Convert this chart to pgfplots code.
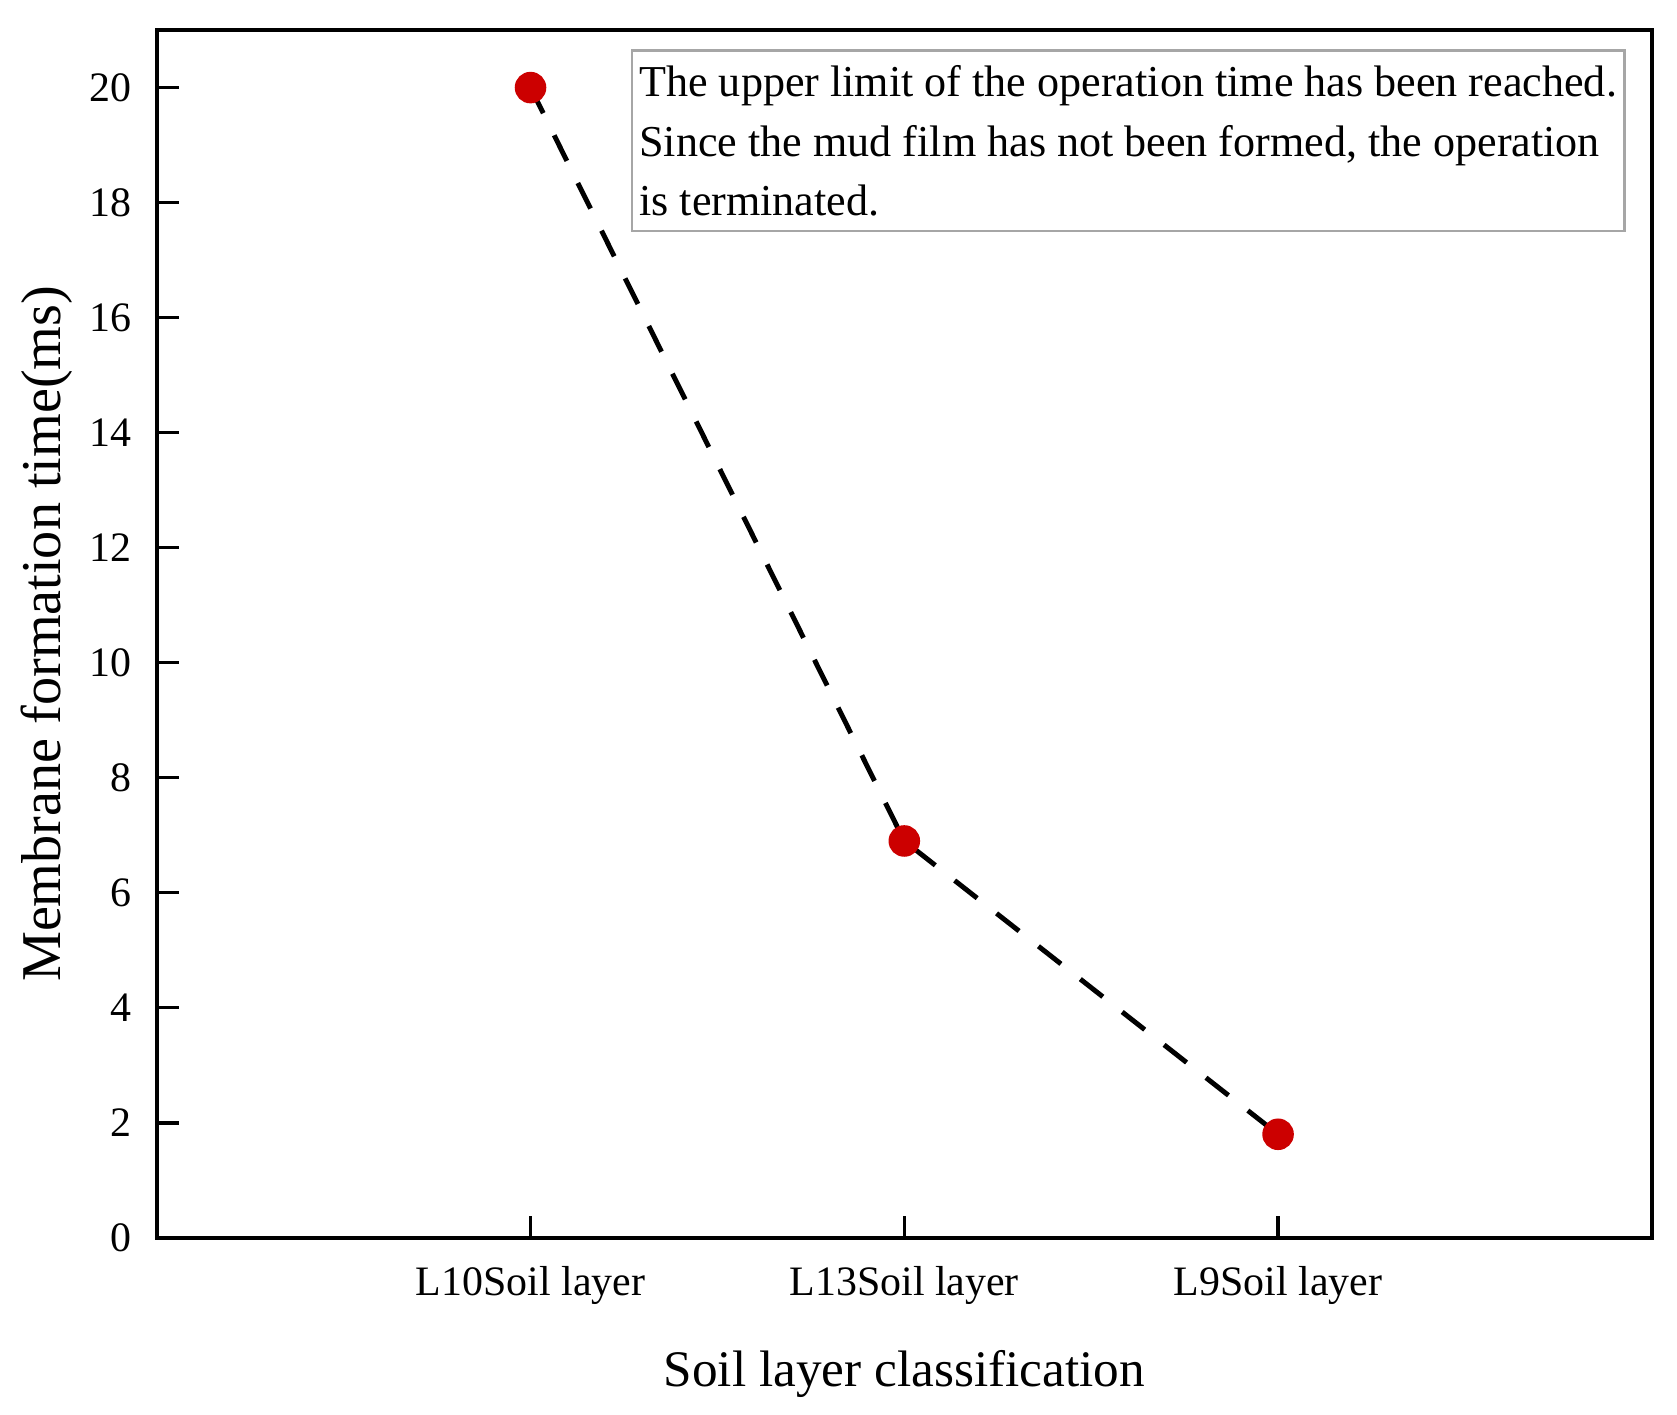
\documentclass[border=0pt]{standalone}
\usepackage{fontspec}
\setmainfont{Liberation Serif}
\usepackage{pgfplots}
\pgfplotsset{compat=1.18}
\definecolor{ptred}{RGB}{204,0,0}
\begin{document}
\begin{tikzpicture}
\useasboundingbox (-31.8pt,-35.9pt) rectangle (308.4pt,251.1pt);
\begin{axis}[
  scale only axis, width=303.3pt, height=245pt,
  xmin=0, xmax=4, ymin=0, ymax=21,
  xtick={1,2,3},
  xticklabels={L10Soil layer, L13Soil layer, L9Soil layer},
  ytick={0,2,...,20},
  xtick pos=bottom, ytick pos=left, tick align=inside,
  major tick length=4.5pt,
  axis line style={line width=0.8pt},
  tick style={line width=0.7pt, black},
  ticklabel style={font=\fontsize{8.5}{10}\selectfont},
  /pgf/number format/assume math mode=true,
  xticklabel style={yshift=-2.2pt},
  yticklabel style={xshift=-1.7pt},
  xlabel={Soil layer classification},
  ylabel={Membrane formation time(ms)},
  xlabel style={font=\fontsize{10.4}{12}\selectfont, at={(axis description cs:0.5,-0.113)}, anchor=center},
  ylabel style={font=\fontsize{11.4}{13}\selectfont, at={(axis description cs:-0.0735,0.5)}, anchor=center, rotate=0},
]
\addplot[black, dash pattern=on 5.8pt off 5pt, line width=1pt,
  mark=*, mark size=2.7pt, mark options={solid, fill=ptred, draw=ptred}]
  coordinates {(1,20) (2,6.9) (3,1.8)};
\node[draw=gray!70, line width=0.5pt, anchor=north west, inner xsep=1.5pt, inner ysep=3pt,
  align=left, font=\fontsize{8.95}{12.1}\selectfont]
  at (rel axis cs:0.317,0.984)
  {The upper limit of the operation time has been reached.\\
   Since the mud film has not been formed, the operation\\
   is terminated.};
\end{axis}
\end{tikzpicture}
\end{document}
